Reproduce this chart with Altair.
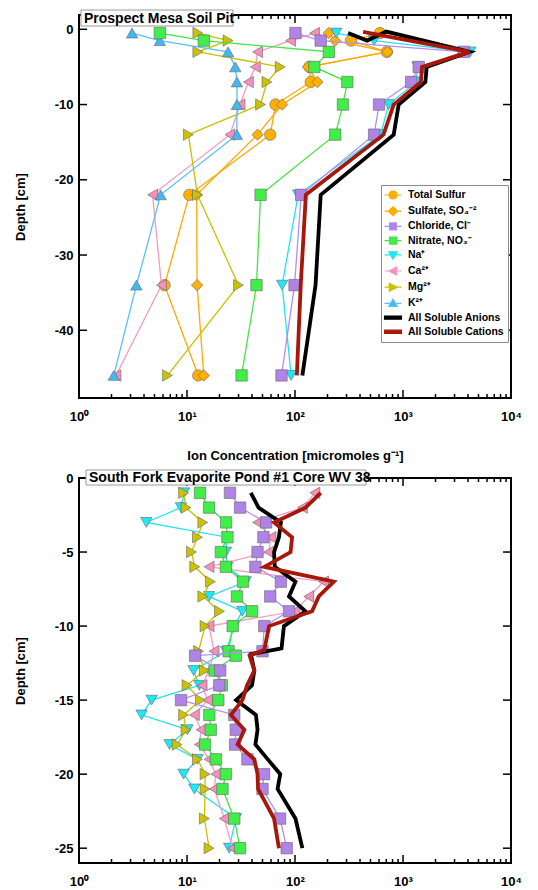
import altair as alt
import pandas as pd

FONT = "Liberation Sans"

# ---------------- Prospect Mesa Soil Pit (top panel) ----------------
PM_DEPTH = [-0.5, -1.5, -3, -5, -7, -10, -14, -22, -34, -46]
PM_TOTAL_SULFUR = [612, 330, 710, 136, 140, 66, 59, 10.5, 6.2, 12.7]
PM_SULFATE = [205, 235, 716, 132, 161, 76, 45, 12.3, 12.4, 14.3]
PM_CHLORIDE = [101, 173, 3650, 1400, 1190, 600, 540, 114, 99, 75]
PM_NITRATE = [5.6, 14.3, 206, 151, 305, 278, 236, 48, 44, 32]
PM_NA = [241, 540, 4200, 1360, 1330, 736, 620, 107, 76, 92]
PM_CA = [152, 91, 45, 43, 37, 31, 25, 4.8, 5.8, 2.2]
PM_MG = [12.6, 24, 12.6, 73, 55, 48, 10.3, 12.5, 30, 6.6]
PM_K = [3.1, 5.6, 24, 28, 29, 29, 29, 5.7, 3.4, 2.1]
PM_ANION_DEPTH = [-0.5, -1.5, -0.3, -3, -5, -7, -10, -14, -22, -34, -46]
PM_ANIONS = [310, 465, 700, 4150, 1660, 1610, 912, 820, 173, 155, 117]
PM_CATION_DEPTH = [-0.35, -3, -5, -7, -10, -14, -22, -34, -46]
PM_CATIONS = [427, 4150, 1500, 1466, 820, 660, 126, 113, 104]

# ---------------- South Fork Evaporite Pond #1 (bottom panel) ----------------
SF_DEPTH_A = [-1, -2, -3, -4, -5, -6, -7, -8, -9, -10, -11.7, -12, -13, -14, -15,
              -16, -17, -18, -19, -20, -21, -23, -25]
SF_CHLORIDE = [25, 31, 54, 51, 45, 43, 74, 59, 88, 52, 50, 11.9, 20.3, 19.9, 8.8,
               27.4, 28.3, 27.9, 36.3, 51.7, 50, 72.7, 83.8]
SF_NITRATE = [13.2, 16, 23, 23.7, 20.6, 22.9, 33, 29, 40, 26.5, 24.3, 28.3, 18, 21, 19.5,
              16.1, 16.6, 14.7, 18.5, 22.9, 21.3, 27.4, 31]
SF_DEPTH_B = [-1, -2, -3, -4, -5, -6, -7, -8, -9, -10, -11.7, -13, -14, -15,
              -16, -17, -18, -19, -20, -21, -23, -25]
SF_NA = [9.4, 8.8, 4.2, 23.5, 22.9, 23.7, 35, 16, 32.5, 27.4, 23, 11.5, 13, 4.7,
         3.8, 10.1, 6.9, 12.5, 9.3, 11.7, 28.3, 24.6]
SF_CA = [153, 117, 45, 60, 57, 16, 184, 134, 100, 16, 17.8, 16, 13.8, 15.5,
         11.7, 13.5, 13, 16, 18.5, 17.9, 22.1, 26.4]
SF_MG = [9.3, 9.8, 14, 12.5, 11, 11.8, 16.5, 14, 20, 14.7, 12.8, 14.5, 10, 13.3,
         9.3, 9.8, 8.1, 12.5, 14.7, 14.7, 14.5, 16]
SF_ANION_DEPTH = [-1, -2, -3, -4, -5, -6, -7, -8, -9, -10, -11.5, -11.9, -13, -14, -15,
                  -16, -17, -18, -19, -20, -21, -23, -25]
SF_ANIONS = [39, 46, 74, 71, 64, 65, 101, 88, 125, 79, 75, 39, 42, 40, 28.5,
             43.5, 45, 43, 56, 73, 69, 101, 117]
SF_CATION_DEPTH = [-1, -2, -3, -4, -5, -6, -7, -8, -9, -10, -11.6, -12, -13, -14, -15,
                   -16, -17, -18, -19, -20, -21, -23, -25]
SF_CATIONS = [173, 125, 64, 94, 91, 52, 229, 166, 144, 57.5, 52, 38, 42, 36, 32.6,
              25.5, 34, 29.4, 42, 45, 45.5, 64, 71]

# ---------------- axes tick values ----------------
X_LABEL_VALUES = [1, 10, 100, 1000, 10000]
X_MAJOR_TICKS = [10, 100, 1000]
X_MINOR_TICKS = [2, 3, 4, 5, 6, 7, 8, 9, 20, 30, 40, 50, 60, 70, 80, 90,
                 200, 300, 400, 500, 600, 700, 800, 900,
                 2000, 3000, 4000, 5000, 6000, 7000, 8000, 9000]
PM_Y_TICKS = [0, -10, -20, -30, -40]
SF_Y_TICKS = [0, -5, -10, -15, -20, -25]

# ---------------- legend ----------------
LEG_LABELS = ["Total Sulfur", "Sulfate, SO\u2084\u207b\u00b2", "Chloride, Cl\u207b",
              "Nitrate, NO\u2083\u207b", "Na\u207a", "Ca\u00b2\u207a", "Mg\u00b2\u207a",
              "K\u00b2\u207a", "All Soluble Anions", "All Soluble Cations"]

# ---------------- styles ----------------
ORANGE_F, ORANGE_L = "#FFB000", "#FFA800"
PURPLE_F, PURPLE_L = "#B084E6", "#B48EF0"
GREEN_F, GREEN_L = "#40EE48", "#44E444"
CYAN_F, CYAN_L = "#1EE8F5", "#22E2F2"
PINK_F, PINK_L = "#F590BA", "#F59CC0"
OLIVE_F, OLIVE_L = "#CCC200", "#C9C000"
BLUE_F, BLUE_L = "#45B8F0", "#58C2F5"
BLACK = "#000000"
RED = "#A8180A"

LEG_FILL = [ORANGE_F, ORANGE_F, PURPLE_F, GREEN_F, CYAN_F, PINK_F, OLIVE_F, BLUE_F, BLACK, RED]
LEG_STROKE = [ORANGE_L, ORANGE_L, PURPLE_L, GREEN_L, CYAN_L, PINK_L, OLIVE_L, BLUE_L, BLACK, RED]
LEG_PATHS = [
    "M-1.6,0H-0.75M0.75,0H1.6M-0.75,0A0.75,0.75 0 1,0 0.75,0A0.75,0.75 0 1,0 -0.75,0Z",
    "M-1.6,0H-0.85M0.85,0H1.6M0,-0.85L0.85,0L0,0.85L-0.85,0Z",
    "M-1.6,0H-0.65M0.65,0H1.6M-0.65,-0.65H0.65V0.65H-0.65Z",
    "M-1.6,0H-0.65M0.65,0H1.6M-0.65,-0.65H0.65V0.65H-0.65Z",
    "M-1.6,0H-0.5M0.5,0H1.6M-0.8,-0.55L0.8,-0.55L0,0.8Z",
    "M-1.6,0H-0.8M0.7,0H1.6M-0.8,0L0.7,-0.75L0.7,0.75Z",
    "M-1.6,0H-0.7M0.8,0H1.6M0.8,0L-0.7,-0.75L-0.7,0.75Z",
    "M-1.6,0H-0.5M0.5,0H1.6M-0.8,0.55L0.8,0.55L0,-0.8Z",
    "M-1.6,-0.3H1.6V0.3H-1.6Z",
    "M-1.6,-0.3H1.6V0.3H-1.6Z",
]

W = 432
H_TOP = 383
H_BOT = 385

X_LABEL_EXPR = "'10' + ['\u2070','\u00b9','\u00b2','\u00b3','\u2074'][round(log(datum.value)/LN10)]"
Y_LABEL_EXPR = "datum.value < 0 ? '-' + abs(datum.value) : '' + datum.value"


def panel(series, H, ydom, yticks, xtitle, label, box, legend=False):
    xs = alt.Scale(type="log", domain=[1, 10000], nice=False)
    ys = alt.Scale(domain=ydom, nice=False, zero=False)
    ax_x = alt.Axis(values=X_LABEL_VALUES, labelExpr=X_LABEL_EXPR, ticks=False, tickSize=0,
                    domain=False, grid=False, labelFont=FONT, labelFontSize=13,
                    labelFontWeight="bold", labelColor="black", labelPadding=12,
                    labelOverlap=False, labelFlush=False,
                    title=xtitle, titleFont=FONT, titleFontSize=13, titleFontWeight="bold",
                    titleColor="black", titleY=51)
    ax_y = alt.Axis(values=yticks, labelExpr=Y_LABEL_EXPR, ticks=False, tickSize=0,
                    domain=False, grid=False, labelFont=FONT, labelFontSize=13,
                    labelFontWeight="bold", labelColor="black", labelPadding=6,
                    labelOverlap=False,
                    title="Depth [cm]", titleFont=FONT, titleFontSize=13,
                    titleFontWeight="bold", titleColor="black", titleX=-52, titleY=H / 2)

    def X(f):
        return alt.X(f + ":Q", scale=xs, axis=ax_x)

    def Y(f):
        return alt.Y(f + ":Q", scale=ys, axis=ax_y)

    layers = []
    xmaj = pd.DataFrame({"t": X_MAJOR_TICKS})
    xmin = pd.DataFrame({"t": X_MINOR_TICKS})
    ytk = pd.DataFrame({"t": yticks})
    rule = dict(color="black", strokeWidth=1.5)
    layers.append(alt.Chart(xmaj).mark_rule(**rule).encode(x=X("t"), y=alt.value(H), y2=alt.value(H - 8)))
    layers.append(alt.Chart(xmin).mark_rule(**rule).encode(x=X("t"), y=alt.value(H), y2=alt.value(H - 4)))
    layers.append(alt.Chart(xmaj).mark_rule(**rule).encode(x=X("t"), y=alt.value(0), y2=alt.value(8)))
    layers.append(alt.Chart(xmin).mark_rule(**rule).encode(x=X("t"), y=alt.value(0), y2=alt.value(4)))
    layers.append(alt.Chart(ytk).mark_rule(**rule).encode(y=Y("t"), x=alt.value(0), x2=alt.value(8)))
    layers.append(alt.Chart(ytk).mark_rule(**rule).encode(y=Y("t"), x=alt.value(W), x2=alt.value(W - 8)))

    for depths, vals, shape, fill, line, lw in series:
        df = pd.DataFrame({"d": depths, "v": vals, "i": list(range(len(vals)))})
        layers.append(alt.Chart(df).mark_line(color=line, strokeWidth=lw).encode(
            x=X("v"), y=Y("d"), order=alt.Order("i:Q")))
        if shape:
            layers.append(alt.Chart(df).mark_point(shape=shape, filled=True, fill=fill, stroke="#666666",
                                                   strokeWidth=0.6, size=130, opacity=1).encode(
                x=X("v"), y=Y("d")))

    one = pd.DataFrame({"k": [0]})
    x1, x2, y1, y2, tx, ty = box
    layers.append(alt.Chart(one).mark_rect(fill="white", stroke="#9a9a9a", strokeWidth=1).encode(
        x=alt.value(x1), x2=alt.value(x2), y=alt.value(y1), y2=alt.value(y2)))
    layers.append(alt.Chart(one).mark_text(align="left", baseline="middle", font=FONT, fontSize=14,
                                           fontWeight="bold", color="black").encode(
        x=alt.value(tx), y=alt.value(ty), text=alt.value(label)))

    if legend:
        lg = alt.Legend(orient="none", legendX=302, legendY=170, title=None, padding=4,
                        symbolOffset=2,
                        strokeColor="#8c8c8c", fillColor="white", labelFont=FONT, labelFontSize=10.5,
                        labelFontWeight="bold", labelColor="black", labelOffset=9, rowPadding=2.2,
                        symbolSize=112, symbolStrokeWidth=1.2)
        ldf = pd.DataFrame({"lg": LEG_LABELS})
        layers.append(alt.Chart(ldf).mark_point(filled=True, size=112, opacity=1).encode(
            color=alt.Color("lg:N", scale=alt.Scale(domain=LEG_LABELS, range=LEG_FILL), legend=lg),
            stroke=alt.Stroke("lg:N", scale=alt.Scale(domain=LEG_LABELS, range=LEG_STROKE), legend=lg),
            shape=alt.Shape("lg:N", scale=alt.Scale(domain=LEG_LABELS, range=LEG_PATHS), legend=lg),
        ).transform_filter("false"))

    return alt.layer(*layers).properties(width=W, height=H)


top_series = [
    (PM_DEPTH, PM_TOTAL_SULFUR, "circle", ORANGE_F, ORANGE_L, 1.3),
    (PM_DEPTH, PM_SULFATE, "diamond", ORANGE_F, ORANGE_L, 1.3),
    (PM_DEPTH, PM_NA, "triangle-down", CYAN_F, CYAN_L, 1.3),
    (PM_DEPTH, PM_CA, "triangle-left", PINK_F, PINK_L, 1.3),
    (PM_DEPTH, PM_MG, "triangle-right", OLIVE_F, OLIVE_L, 1.3),
    (PM_DEPTH, PM_K, "triangle-up", BLUE_F, BLUE_L, 1.3),
    (PM_DEPTH, PM_NITRATE, "square", GREEN_F, GREEN_L, 1.3),
    (PM_DEPTH, PM_CHLORIDE, "square", PURPLE_F, PURPLE_L, 1.3),
    (PM_ANION_DEPTH, PM_ANIONS, None, BLACK, BLACK, 3.8),
    (PM_CATION_DEPTH, PM_CATIONS, None, RED, RED, 3.8),
]

bot_series = [
    (SF_DEPTH_B, SF_NA, "triangle-down", CYAN_F, CYAN_L, 1.3),
    (SF_DEPTH_B, SF_CA, "triangle-left", PINK_F, PINK_L, 1.3),
    (SF_DEPTH_B, SF_MG, "triangle-right", OLIVE_F, OLIVE_L, 1.3),
    (SF_DEPTH_A, SF_NITRATE, "square", GREEN_F, GREEN_L, 1.3),
    (SF_DEPTH_A, SF_CHLORIDE, "square", PURPLE_F, PURPLE_L, 1.3),
    (SF_ANION_DEPTH, SF_ANIONS, None, BLACK, BLACK, 3.8),
    (SF_CATION_DEPTH, SF_CATIONS, None, RED, RED, 3.8),
]

top = panel(top_series, H_TOP, [-49, 1.9], PM_Y_TICKS,
            "Ion Concentration [micromoles g\u207b\u00b9]", "Prospect Mesa Soil Pit",
            (2, 154, -5, 11, 5, 3.5), legend=True)
bottom = panel(bot_series, H_BOT, [-26, 0], SF_Y_TICKS, "",
               "South Fork Evaporite Pond #1 Core WV 38",
               (7, 287, -8, 7, 10, -0.5))

chart = alt.vconcat(top, bottom, spacing=80, bounds="flush").properties(
    padding={"left": 5, "top": 0, "right": 5, "bottom": 5},
    background="white",
).configure_view(stroke="black", strokeWidth=2)

chart.save("out.html", embed_options={"renderer": "svg", "actions": False})
